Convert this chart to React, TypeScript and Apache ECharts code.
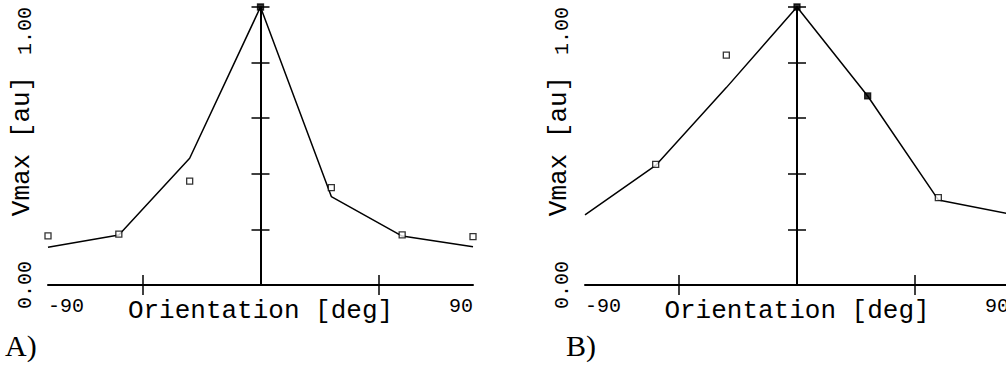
import React, { useEffect, useRef } from "react";
import * as echarts from "echarts";

// Orientation [deg] of the sampled points
const orientation = [-90, -60, -30, 0, 30, 60, 90];
// Panel A: fitted curve and measured points (Vmax, arbitrary units)
const fitA = [0.136, 0.18, 0.456, 1.0, 0.318, 0.176, 0.138];
const measA = [0.177, 0.183, 0.374, 1.0, 0.35, 0.18, 0.174];
const filledA = [false, false, false, true, false, false, false];
// Panel B
const fitB = [0.252, 0.43, 0.71, 1.0, 0.68, 0.306, 0.256];
const measB: (number | null)[] = [null, 0.434, 0.827, 1.0, 0.68, 0.314, null];
const filledB = [false, false, false, true, true, false, false];

const xTickValues = [-50, 50];
const xLabelValues = [-90, 90];
const yTickValues = [0.2, 0.4, 0.6, 0.8, 1.0];
const yLabelValues = [0, 1];
const yLabelTexts = ["0.00", "1.00"];
const xName = "Orientation [deg]";
const yName = "Vmax [au]";
const panelLabels = ["A)", "B)"];

const MONO = "'Liberation Mono', 'DejaVu Sans Mono', monospace";

export default function App() {
  const ref = useRef<HTMLDivElement>(null);

  useEffect(() => {
    if (!ref.current) return;
    const chart = echarts.init(ref.current, undefined, { renderer: "svg" });

    const panels = [
      { left: 48, width: 425, fit: fitA, meas: measA, filled: filledA, labelX: 5 },
      { left: 585, width: 424, fit: fitB, meas: measB, filled: filledB, labelX: 566 },
    ];

    const grid: any[] = [];
    const xAxis: any[] = [];
    const yAxis: any[] = [];
    const series: any[] = [];
    const graphic: any[] = [];

    panels.forEach((p, i) => {
      grid.push({
        left: p.left,
        top: 7,
        width: p.width,
        height: 278,
        containLabel: false,
        outerBoundsMode: "none",
      });
      const xMain = xAxis.length;
      const yMain = yAxis.length;
      xAxis.push({
        type: "value",
        gridIndex: i,
        min: -90,
        max: 90,
        position: "bottom",
        axisLine: { show: true, onZero: true, onZeroAxisIndex: yMain, lineStyle: { color: "#000", width: 2 } },
        axisTick: { show: true, length: 10, customValues: xTickValues, lineStyle: { color: "#000", width: 1.5 } },
        axisLabel: {
          show: true,
          customValues: xLabelValues,
          formatter: (v: number) => String(v),
          alignMinLabel: "left",
          alignMaxLabel: "right",
          margin: 11,
          color: "#000",
          fontFamily: MONO,
          fontSize: 20,
        },
        splitLine: { show: false },
        name: xName,
        nameLocation: "middle",
        nameGap: 13,
        nameMoveOverlap: false,
        nameTextStyle: { color: "#000", fontFamily: MONO, fontSize: 26 },
      });
      xAxis.push({
        type: "value",
        gridIndex: i,
        min: -90,
        max: 90,
        position: "top",
        axisLine: { show: false, onZero: true, onZeroAxisIndex: yMain },
        axisTick: { show: true, length: 10, customValues: xTickValues, lineStyle: { color: "#000", width: 1.5 } },
        axisLabel: { show: false },
        splitLine: { show: false },
      });
      yAxis.push({
        type: "value",
        gridIndex: i,
        min: 0,
        max: 1,
        position: "left",
        axisLine: { show: true, onZero: true, onZeroAxisIndex: xMain, lineStyle: { color: "#000", width: 2 } },
        axisTick: { show: true, length: 9, customValues: yTickValues, lineStyle: { color: "#000", width: 1.5 } },
        axisLabel: { show: false },
        splitLine: { show: false },
      });
      yAxis.push({
        type: "value",
        gridIndex: i,
        min: 0,
        max: 1,
        position: "right",
        axisLine: { show: false, onZero: true, onZeroAxisIndex: xMain },
        axisTick: { show: true, length: 9, customValues: yTickValues, lineStyle: { color: "#000", width: 1.5 } },
        axisLabel: { show: false },
        splitLine: { show: false },
      });
      yAxis.push({
        type: "value",
        gridIndex: i,
        min: 0,
        max: 1,
        position: "left",
        axisLine: { show: false, onZero: false },
        axisTick: { show: false },
        axisLabel: {
          show: true,
          customValues: yLabelValues,
          formatter: (v: number) => yLabelTexts[yLabelValues.indexOf(v)] ?? String(v),
          rotate: 90,
          margin: 13,
          alignMaxLabel: "right",
          color: "#000",
          fontFamily: MONO,
          fontSize: 20,
        },
        splitLine: { show: false },
        name: yName,
        nameLocation: "middle",
        nameRotate: 90,
        nameGap: 13,
        nameMoveOverlap: false,
        nameTextStyle: { color: "#000", fontFamily: MONO, fontSize: 26 },
      });

      series.push({
        type: "line",
        xAxisIndex: xMain,
        yAxisIndex: yMain,
        data: orientation.map((x, k) => [x, p.fit[k]]),
        symbol: "none",
        lineStyle: { color: "#000", width: 1.5 },
        clip: false,
        z: 2,
      });
      series.push({
        type: "scatter",
        xAxisIndex: xMain,
        yAxisIndex: yMain,
        symbol: "rect",
        symbolSize: 6,
        clip: false,
        z: 3,
        data: orientation
          .map((x, k) =>
            p.meas[k] == null
              ? null
              : {
                  value: [x, p.meas[k]],
                  itemStyle: {
                    color: p.filled[k] ? "#000" : "#fff",
                    borderColor: "#000",
                    borderWidth: 1.3,
                  },
                }
          )
          .filter((d) => d != null),
      });

      graphic.push({
        type: "text",
        left: p.labelX,
        top: 330,
        style: {
          text: panelLabels[i],
          fill: "#000",
          font: "30px 'Liberation Serif', 'Times New Roman', serif",
        },
      });
    });

    chart.setOption({
      animation: false,
      backgroundColor: "#fff",
      grid,
      xAxis,
      yAxis,
      series,
      graphic,
    });

    return () => chart.dispose();
  }, []);

  return (
    <div
      ref={ref}
      style={{ position: "absolute", left: 0, top: 0, width: 1006, height: 372, background: "#fff" }}
    />
  );
}
